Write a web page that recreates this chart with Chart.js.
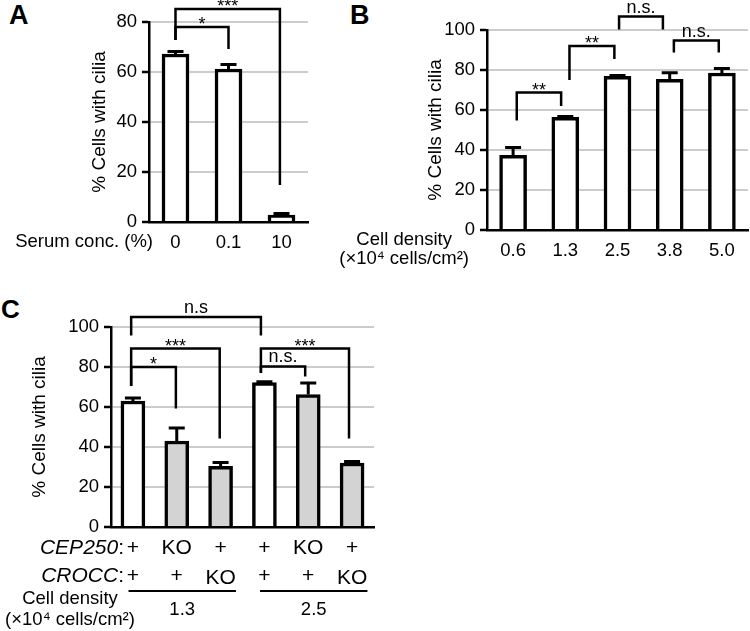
<!DOCTYPE html>
<html>
<head>
<meta charset="utf-8">
<script src="https://cdn.jsdelivr.net/npm/chart.js@4.4.1/dist/chart.umd.min.js"></script>
<style>
  body { margin: 0; background: #fff; width: 750px; height: 631px; position: relative; overflow: hidden; font-family: "Liberation Sans", Arial, sans-serif; }
  canvas { position: absolute; }
  .panel { position: absolute; font-weight: bold; font-size: 27px; line-height: 27px; color: #000; }
</style>
</head>
<body>
<div class="panel" style="left:9px; top:2px;">A</div>
<div class="panel" style="left:350px; top:2px;">B</div>
<div class="panel" style="left:1px; top:296px; font-size:26px; line-height:26px;">C</div>
<canvas id="chartA" width="320" height="262" style="left:0; top:0;"></canvas>
<canvas id="chartB" width="420" height="270" style="left:330px; top:0;"></canvas>
<canvas id="chartC" width="400" height="341" style="left:0; top:290px;"></canvas>
<script>
// ---- data ----
const serumLabels = ['0', '0.1', '10'];
const serumValues = [67.2, 61.2, 2.8];
const serumErrors = [1.0, 1.8, 0.6];
// [from index, to index, top, left leg end, right leg end, label]
const serumBrackets = [
  [0, 1, 78, 72.8, 69.2, '*'],
  [0, 1.97, 85.2, 72.8, 14.8, '***'],
];

const densityLabels = ['0.6', '1.3', '2.5', '3.8', '5.0'];
const densityValues = [37.3, 56.3, 76.8, 75.3, 78.5];
const densityErrors = [4.0, 0.5, 0.5, 3.3, 2.3];
const densityBrackets = [
  [0.07, 0.92, 68.7, 54.7, 62, '**'],
  [1.08, 1.94, 92, 75, 85.5, '**'],
  [2.03, 2.87, 106.7, 100.3, 100.3, 'n.s.'],
  [3.08, 3.94, 94.7, 88.7, 88.7, 'n.s.'],
];

const cep250Row = ['+', 'KO', '+', '+', 'KO', '+'];
const croccRow = ['+', '+', 'KO', '+', '+', 'KO'];
const densityGroups = ['1.3', '2.5'];
const knockoutValues = [63, 43, 30.3, 72.2, 66.2, 32];
const knockoutErrors = [1.5, 6.5, 2.0, 0.4, 5.8, 0.8];
const knockoutBrackets = [
  [-0.04, 2.92, 105, 95.8, 95.8, 'n.s'],
  [-0.04, 1.98, 89.2, 70.5, 44.2, '***'],
  [-0.04, 0.98, 80, 70.5, 59.2, '*'],
  [2.92, 4.93, 89.2, 77, 44.2, '***'],
  [2.92, 3.93, 80.3, 77, 75.3, 'n.s.'],
];

const FONT = '"Liberation Sans", Arial, sans-serif';

// error bars (upper half only) and significance brackets
const annotate = {
  id: 'annotate',
  afterDatasetsDraw(chart, args, opts) {
    const ctx = chart.ctx;
    const x = chart.scales.x, y = chart.scales.y;
    ctx.save();
    ctx.strokeStyle = '#000';
    ctx.lineWidth = 3;
    opts.values.forEach((v, i) => {
      const cx = x.getPixelForValue(i);
      const y0 = y.getPixelForValue(v);
      const y1 = y.getPixelForValue(v + opts.errors[i]);
      ctx.beginPath();
      ctx.moveTo(cx, y0);
      ctx.lineTo(cx, y1);
      ctx.moveTo(cx - 8, y1);
      ctx.lineTo(cx + 8, y1);
      ctx.stroke();
    });

    ctx.lineWidth = 2.5;
    ctx.fillStyle = '#000';
    ctx.textAlign = 'center';
    ctx.textBaseline = 'alphabetic';
    ctx.font = '18px ' + FONT;
    opts.brackets.forEach(b => {
      const xl = x.getPixelForValue(b[0]);
      const xr = x.getPixelForValue(b[1]);
      const yt = y.getPixelForValue(b[2]);
      ctx.beginPath();
      ctx.moveTo(xl, y.getPixelForValue(b[3]));
      ctx.lineTo(xl, yt);
      ctx.lineTo(xr, yt);
      ctx.lineTo(xr, y.getPixelForValue(b[4]));
      ctx.stroke();
      const isStar = b[5].indexOf('*') === 0;
      ctx.fillText(b[5], (xl + xr) / 2, isStar ? yt + 3 : yt - 4);
    });
    ctx.restore();
  }
};

function makePanel(id, cfg) {
  const canvas = document.getElementById(id);
  return new Chart(canvas, {
    type: 'bar',
    data: {
      labels: cfg.labels,
      datasets: [{
        data: cfg.values,
        backgroundColor: cfg.fills,
        borderColor: '#000',
        borderWidth: 3.5,
        barThickness: cfg.barWidth,
      }]
    },
    options: {
      responsive: false,
      animation: false,
      layout: {
        padding: { left: 0, top: cfg.top, right: canvas.width - cfg.right, bottom: 0 }
      },
      plugins: {
        legend: { display: false },
        tooltip: { enabled: false },
        annotate: { values: cfg.values, errors: cfg.errors, brackets: cfg.brackets }
      },
      scales: {
        x: {
          afterFit: s => { s.height = canvas.height - cfg.bottom; },
          grid: { display: false, drawTicks: false },
          border: { color: '#000', width: 2.5 },
          ticks: {
            display: cfg.showTicks,
            color: '#000',
            font: { size: 18.5, family: FONT },
            padding: 10,
            maxRotation: 0,
            autoSkip: false
          }
        },
        y: {
          min: 0,
          max: cfg.max,
          afterFit: s => { s.width = cfg.left; },
          ticks: { stepSize: 20, color: '#000', font: { size: 18.5, family: FONT }, padding: 5 },
          grid: {
            color: c => (c.tick && c.tick.value === 0) ? '#000' : '#cccccc',
            lineWidth: 2,
            tickColor: '#000',
            tickLength: 7,
            tickWidth: 2.5
          },
          border: { color: '#000', width: 2.5 },
          title: {
            display: true,
            text: '% Cells with cilia',
            color: '#000',
            font: { size: 19, family: FONT },
            padding: { top: cfg.titlePad, bottom: 0 }
          }
        }
      }
    },
    plugins: [annotate, cfg.extra]
  });
}

function text(ctx, str, x, y, align, font) {
  ctx.font = font || ('18px ' + FONT);
  ctx.textAlign = align;
  ctx.textBaseline = 'middle';
  ctx.fillStyle = '#000';
  ctx.fillText(str, x, y);
}

makePanel('chartA', {
  labels: serumLabels, values: serumValues, errors: serumErrors, brackets: serumBrackets,
  fills: '#fff', barWidth: 27, max: 80,
  left: 149, right: 308, top: 22, bottom: 222, titlePad: 88, showTicks: true,
  extra: {
    id: 'extraA',
    afterDraw(chart) {
      text(chart.ctx, 'Serum conc. (%)', 153, 242, 'right', '18.5px ' + FONT);
    }
  }
});

makePanel('chartB', {
  labels: densityLabels, values: densityValues, errors: densityErrors, brackets: densityBrackets,
  fills: '#fff', barWidth: 27, max: 100,
  left: 157, right: 418, top: 30, bottom: 230, titlePad: 94, showTicks: true,
  extra: {
    id: 'extraB',
    afterDraw(chart) {
      text(chart.ctx, 'Cell density', 122, 240, 'right', '18.5px ' + FONT);
      text(chart.ctx, '(\u00d710\u2074 cells/cm\u00b2)', 139, 259, 'right', '18.5px ' + FONT);
    }
  }
});

makePanel('chartC', {
  labels: cep250Row.map((c, i) => c + '/' + croccRow[i]),
  values: knockoutValues, errors: knockoutErrors, brackets: knockoutBrackets,
  fills: cep250Row.map((c, i) => (c === 'KO' || croccRow[i] === 'KO') ? '#d3d3d3' : '#fff'),
  barWidth: 24, max: 100,
  left: 111, right: 374, top: 37, bottom: 237, titlePad: 28, showTicks: false,
  extra: {
    id: 'extraC',
    afterDraw(chart) {
      const ctx = chart.ctx;
      const x = chart.scales.x;
      const rowFont = '21px ' + FONT;
      // row headers: italic gene name + regular colon
      ctx.font = rowFont;
      const colon = ctx.measureText(':').width;
      text(ctx, ':', 124, 258, 'right', rowFont);
      text(ctx, 'CEP250', 124 - colon, 258, 'right', 'italic ' + rowFont);
      text(ctx, ':', 124, 286, 'right', rowFont);
      text(ctx, 'CROCC', 124 - colon, 286, 'right', 'italic ' + rowFont);
      cep250Row.forEach((s, i) => text(ctx, s, x.getPixelForValue(i), 258, 'center', rowFont));
      croccRow.forEach((s, i) => text(ctx, s, x.getPixelForValue(i), s === 'KO' ? 288 : 286, 'center', rowFont));
      // density groups
      ctx.strokeStyle = '#000';
      ctx.lineWidth = 2;
      densityGroups.forEach((g, k) => {
        const x1 = x.getPixelForValue(k * 3 - 0.1);
        const x2 = x.getPixelForValue(k * 3 + 2.35);
        ctx.beginPath();
        ctx.moveTo(x1, 301);
        ctx.lineTo(x2, 301);
        ctx.stroke();
        text(ctx, g, (x1 + x2) / 2, 320, 'center', '18.5px ' + FONT);
      });
      text(ctx, 'Cell density', 70, 309, 'center', '18.5px ' + FONT);
      text(ctx, '(\u00d710\u2074 cells/cm\u00b2)', 70, 330, 'center', '18.5px ' + FONT);
    }
  }
});
</script>
</body>
</html>
